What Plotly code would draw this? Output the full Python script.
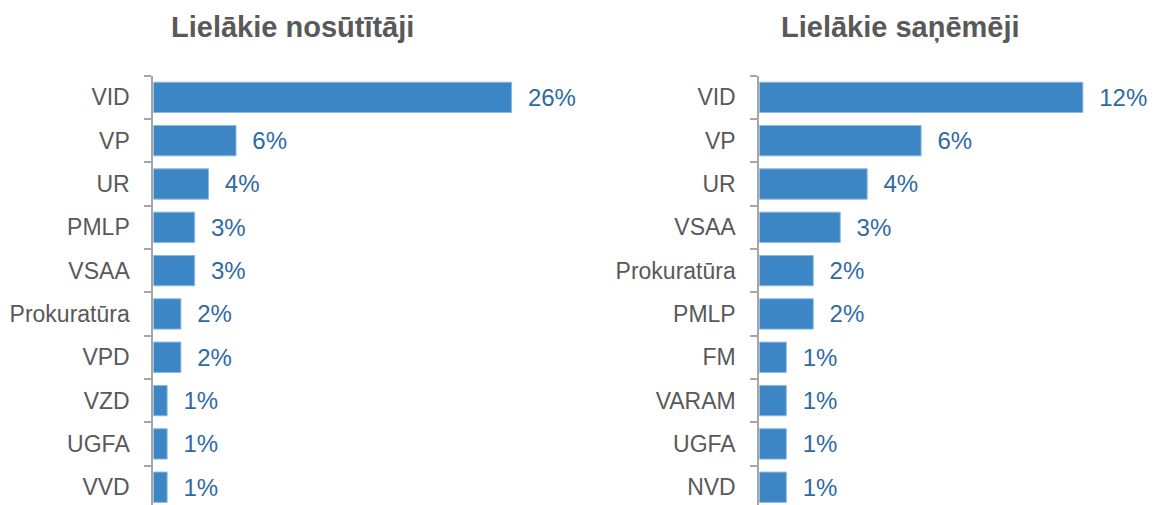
import plotly.graph_objects as go
from plotly.subplots import make_subplots

# dati
sutitaji = ["VID", "VP", "UR", "PMLP", "VSAA", "Prokuratūra", "VPD", "VZD", "UGFA", "VVD"]
sutitaji_proc = [26, 6, 4, 3, 3, 2, 2, 1, 1, 1]

sanemeji = ["VID", "VP", "UR", "VSAA", "Prokuratūra", "PMLP", "FM", "VARAM", "UGFA", "NVD"]
sanemeji_proc = [12, 6, 4, 3, 2, 2, 1, 1, 1, 1]

virsraksti = ["Lielākie nosūtītāji", "Lielākie saņēmēji"]

ZILA = "#3d86c6"
TEKSTS_ZILS = "#2f6aa3"
PELEKS = "#595959"
FONTS = "Liberation Sans, Arial, sans-serif"

# lapai ir 8px atkāpe, tāpēc figūra ir par 8px mazāka
W, H = 1149, 497

fig = make_subplots(rows=1, cols=2)

def pievienot_stabinus(nosaukumi, vertibas, kol):
    fig.add_trace(go.Bar(
        y=nosaukumi, x=vertibas, orientation="h",
        marker=dict(color=ZILA, line=dict(color="#8db7e0", width=1)),
        text=["\u00a0\u00a0" + str(v) + "%" for v in vertibas],
        textposition="outside", cliponaxis=False, constraintext="none",
        textfont=dict(color=TEKSTS_ZILS, size=24, family=FONTS),
        showlegend=False, hoverinfo="skip"), row=1, col=kol)

pievienot_stabinus(sutitaji, sutitaji_proc, 1)
pievienot_stabinus(sanemeji, sanemeji_proc, 2)

ass_y = dict(type="category", range=[9.41, -0.5], domain=[0, 0.8638],
             showline=True, linecolor="#a6a6a6", linewidth=2,
             ticks="outside", tickson="boundaries", ticklen=7, tickwidth=2, tickcolor="#a6a6a6",
             ticklabelstandoff=17, showgrid=False, zeroline=False,
             tickfont=dict(size=23, color=PELEKS, family=FONTS))
fig.update_layout(yaxis=ass_y, yaxis2=ass_y)
fig.update_layout(
    xaxis=dict(domain=[0.1265, 0.5], range=[0, 31.15], visible=False),
    xaxis2=dict(domain=[0.6539, 1.0], range=[0, 14.75], visible=False),
)

for xc, txt in zip([284 / W, 892 / W], virsraksti):
    fig.add_annotation(text="<b>" + txt + "</b>", x=xc, y=(H - 19) / H,
                       xref="paper", yref="paper", xanchor="center", yanchor="middle",
                       showarrow=False, font=dict(size=29, color=PELEKS, family=FONTS))

fig.update_layout(width=W, height=H, margin=dict(l=0, r=0, t=0, b=0),
                  bargap=0.3, plot_bgcolor="white", paper_bgcolor="white")

fig.write_html("out.html")
